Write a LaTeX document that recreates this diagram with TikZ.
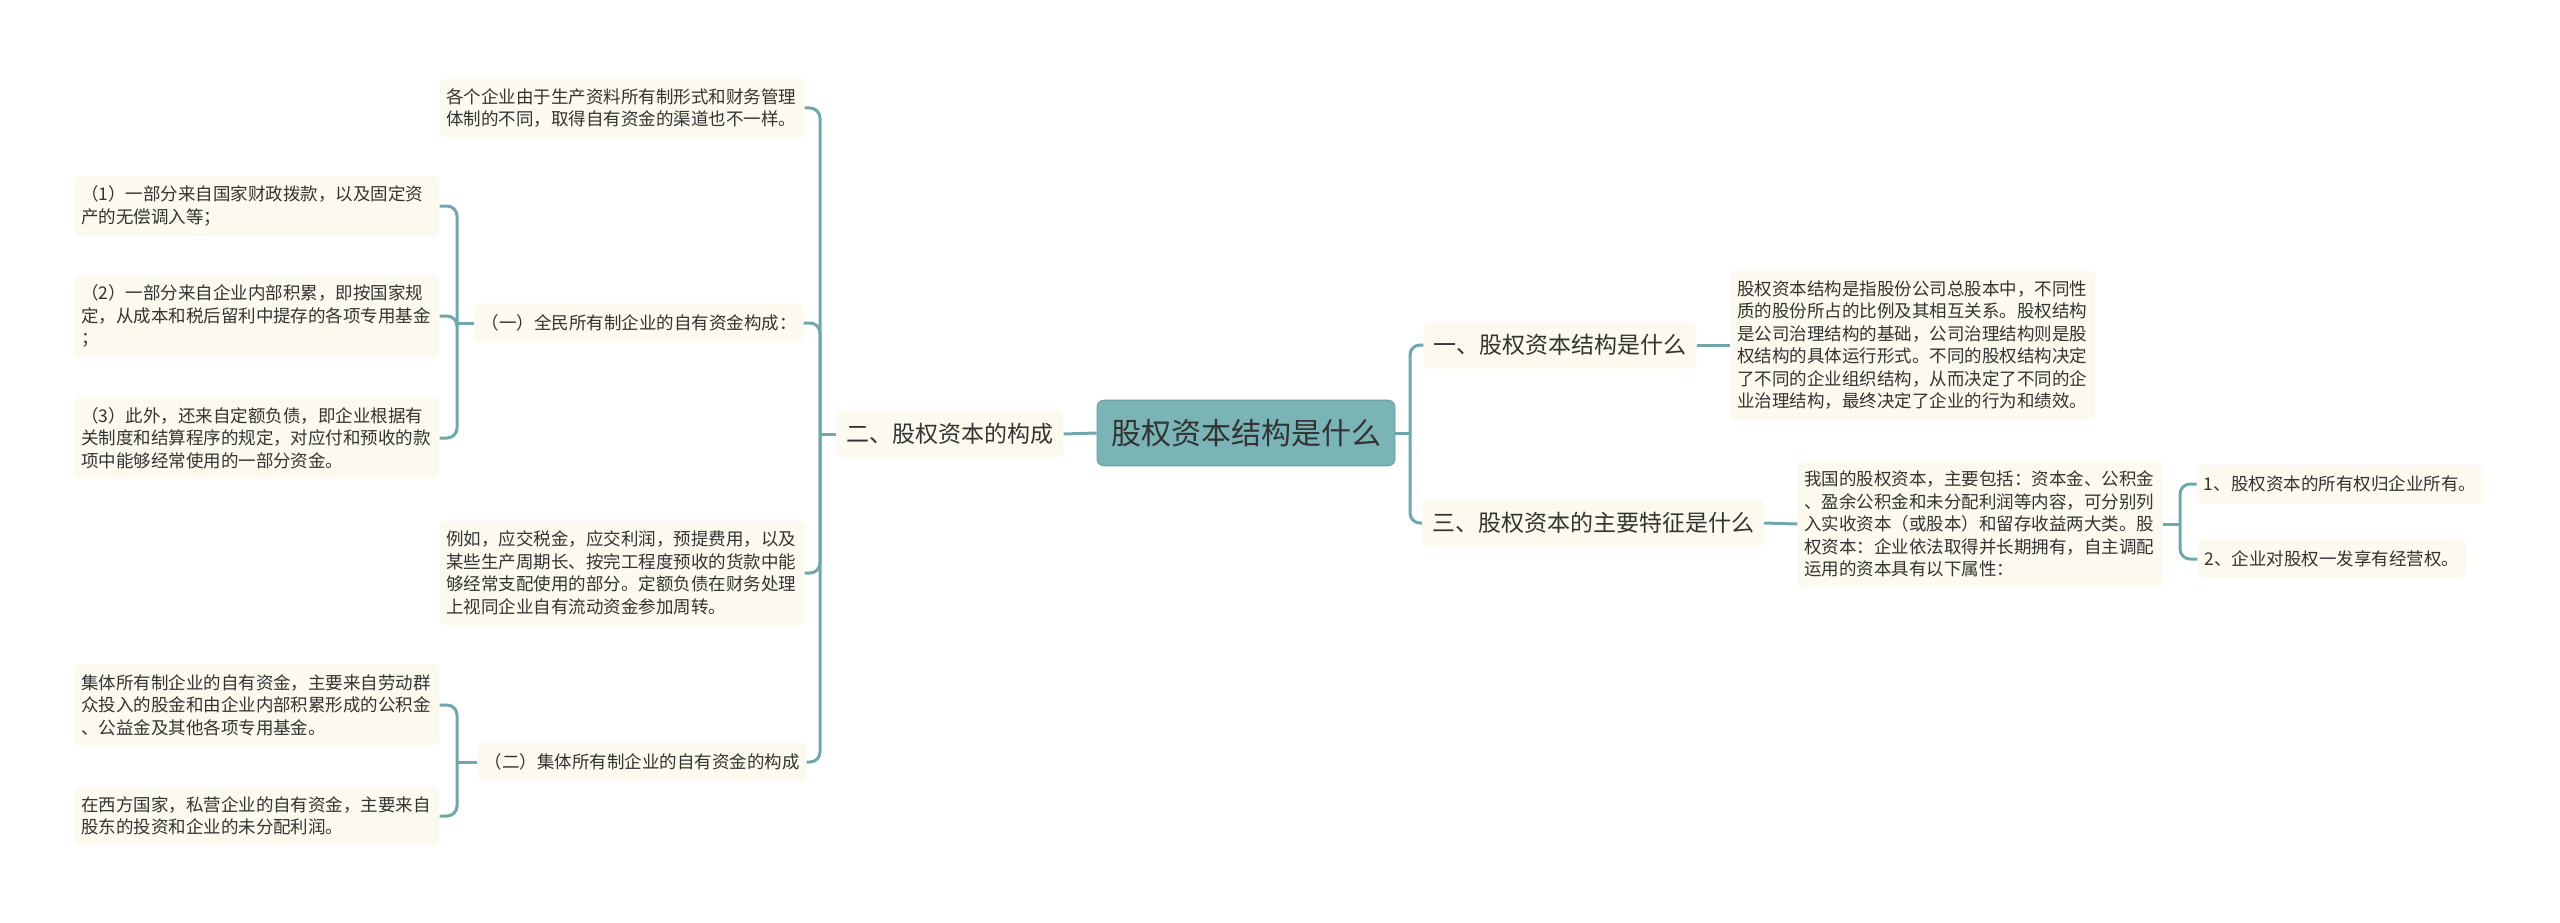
\documentclass[tikz,border=0pt]{standalone}
\usepackage{fontspec}
\setmainfont{Noto Sans CJK SC}
\definecolor{linecol}{HTML}{6FA8AC}
\definecolor{boxfill}{HTML}{FCF9EE}
\definecolor{rootfill}{HTML}{7AB4B7}
\definecolor{txt}{HTML}{333333}
\tikzset{
  conn/.style={draw=linecol, line width=3pt, rounded corners=10pt},
  leaf/.style={fill=boxfill, rounded corners=6pt, text=txt, align=left, text width=352pt,
    inner xsep=6.5pt, inner ysep=10pt, font=\fontsize{17.5}{22.5}\selectfont},
  midbox/.style={fill=boxfill, rounded corners=6pt, text=txt, inner xsep=7pt, inner ysep=11pt,
    font=\fontsize{17.5}{22.5}\selectfont},
  lvone/.style={fill=boxfill, rounded corners=6pt, text=txt, inner xsep=10pt, inner ysep=13pt,
    font=\fontsize{23}{28}\selectfont},
  rootbox/.style={fill=rootfill, draw=rootfill!85!black, line width=0.8pt, rounded corners=7pt, text=txt,
    inner xsep=14pt, inner ysep=19pt, font=\fontsize{30}{36}\selectfont},
}
\begin{document}
\begin{tikzpicture}[x=1pt,y=-1pt]
\useasboundingbox[fill=white] (0,0) rectangle (2560,923);

% root
\node[rootbox] (root) at (1246,433) {股权资本结构是什么};

% left main branch
\node[lvone] (b2) at (950,434) {二、股权资本的构成};
\node[leaf] (la) at (622,108) {各个企业由于生产资料所有制形式和财务管理\\体制的不同，取得自有资金的渠道也不一样。};
\node[midbox] (m1) at (639,323) {（一）全民所有制企业的自有资金构成：};
\node[leaf] (lb) at (622,573) {例如，应交税金，应交利润，预提费用，以及\\某些生产周期长、按完工程度预收的货款中能\\够经常支配使用的部分。定额负债在财务处理\\上视同企业自有流动资金参加周转。};
\node[midbox] (m2) at (642,762) {（二）集体所有制企业的自有资金的构成};

\node[leaf] (p1) at (257,206) {（1）一部分来自国家财政拨款，以及固定资\\产的无偿调入等；};
\node[leaf] (p2) at (257,316) {（2）一部分来自企业内部积累，即按国家规\\定，从成本和税后留利中提存的各项专用基金\\；};
\node[leaf] (p3) at (257,438) {（3）此外，还来自定额负债，即企业根据有\\关制度和结算程序的规定，对应付和预收的款\\项中能够经常使用的一部分资金。};

\node[leaf] (q1) at (257,705) {集体所有制企业的自有资金，主要来自劳动群\\众投入的股金和由企业内部积累形成的公积金\\、公益金及其他各项专用基金。};
\node[leaf] (q2) at (257,816) {在西方国家，私营企业的自有资金，主要来自\\股东的投资和企业的未分配利润。};

% right branches
\node[lvone] (b1) at (1560,345) {一、股权资本结构是什么};
\node[leaf] (r1) at (1913,345) {股权资本结构是指股份公司总股本中，不同性\\质的股份所占的比例及其相互关系。股权结构\\是公司治理结构的基础，公司治理结构则是股\\权结构的具体运行形式。不同的股权结构决定\\了不同的企业组织结构，从而决定了不同的企\\业治理结构，最终决定了企业的行为和绩效。};
\node[lvone] (b3) at (1593,523) {三、股权资本的主要特征是什么};
\node[leaf] (r2) at (1980,524) {我国的股权资本，主要包括：资本金、公积金\\、盈余公积金和未分配利润等内容，可分别列\\入实收资本（或股本）和留存收益两大类。股\\权资本：企业依法取得并长期拥有，自主调配\\运用的资本具有以下属性：};
\node[midbox] (c1) at (2340,484) {1、股权资本的所有权归企业所有。};
\node[midbox] (c2) at (2332,559) {2、企业对股权一发享有经营权。};

% junction coordinates
\coordinate (sR) at (1410,433);
\coordinate (sL) at (820,434);
\coordinate (sM1) at (457,323);
\coordinate (sM2) at (457,762);
\coordinate (sR2) at (2180,524);

% connectors
\draw[conn] (root.east) -- (sR);
\draw[conn] (sR) |- (b1.west);
\draw[conn] (sR) |- (b3.west);
\draw[conn] (b1.east) -- (r1.west);
\draw[conn] (b3.east) -- (r2.west);
\draw[conn] (r2.east) -- (sR2);
\draw[conn] (sR2) |- (c1.west);
\draw[conn] (sR2) |- (c2.west);

\draw[conn] (root.west) -- (b2.east);
\draw[conn] (b2.west) -- (sL);
\draw[conn] (sL) |- (la.east);
\draw[conn] (sL) |- (m1.east);
\draw[conn] (sL) |- (lb.east);
\draw[conn] (sL) |- (m2.east);

\draw[conn] (m1.west) -- (sM1);
\draw[conn] (sM1) |- (p1.east);
\draw[conn] (sM1) |- (p2.east);
\draw[conn] (sM1) |- (p3.east);

\draw[conn] (m2.west) -- (sM2);
\draw[conn] (sM2) |- (q1.east);
\draw[conn] (sM2) |- (q2.east);
\end{tikzpicture}
\end{document}
